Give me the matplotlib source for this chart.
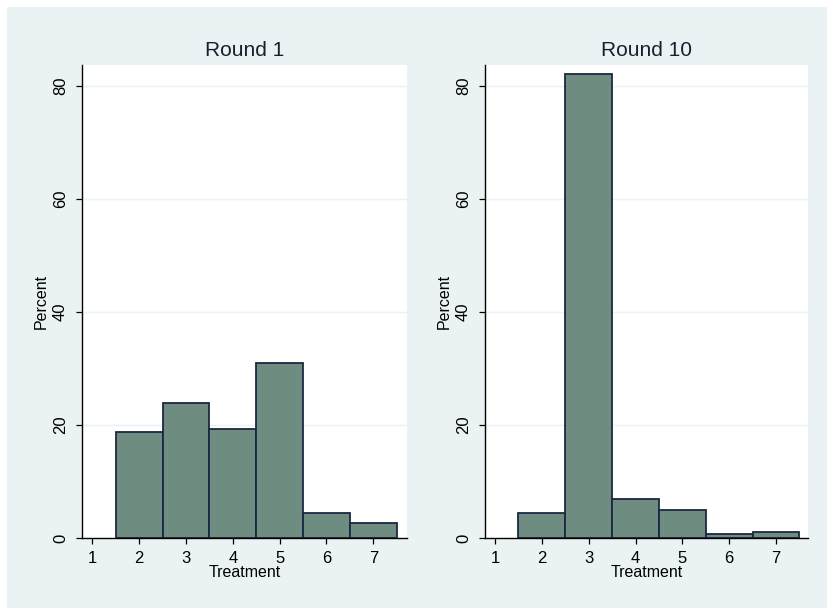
import numpy as np
import matplotlib.pyplot as plt
from matplotlib.patches import Rectangle

plt.rcParams['font.family'] = ['Liberation Sans', 'DejaVu Sans']

# Histogram data: share of subjects (percent) choosing each treatment
treatments = [1, 2, 3, 4, 5, 6, 7]
round1_pct = [0.0, 18.8, 23.9, 19.3, 30.9, 4.4, 2.7]
round10_pct = [0.0, 4.4, 82.1, 6.9, 5.0, 0.7, 1.1]
panel_titles = ["Round 1", "Round 10"]
y_ticks = [0, 20, 40, 60, 80]

bg = "#eaf2f3"
bar_fill = "#6e8c7f"
bar_edge = "#1c2742"

W, H = 828, 608
fig = plt.figure(figsize=(W / 100, H / 100), dpi=100)
fig.patch.set_facecolor("white")
# graph region background (thin white margin on top/left)
fig.patches.append(Rectangle((7 / W, 0), 1 - 7 / W, 1 - 7 / H,
                             transform=fig.transFigure, facecolor=bg,
                             edgecolor="none", zorder=-10))

# axes boxes in pixels: left, right, top, bottom, xlim
boxes = [(82, 407, 64.5, 538, (0.78, 7.72)),
         (485, 808, 64.5, 538, (0.786, 7.683))]

for (x0, x1, y0, y1, xl), title, vals in zip(boxes, panel_titles,
                                             [round1_pct, round10_pct]):
    ax = fig.add_axes([x0 / W, 1 - y1 / H, (x1 - x0) / W, (y1 - y0) / H])
    ax.set_facecolor("white")
    x = np.array(treatments)
    v = np.array(vals)
    keep = v > 0  # empty bins get no outline
    ax.bar(x[keep], v[keep], width=1.0, color=bar_fill, edgecolor=bar_edge,
           linewidth=1.3, zorder=3)
    ax.set_xlim(*xl)
    ax.set_ylim(0, 83.8)
    ax.set_xticks(treatments)
    ax.set_yticks(y_ticks)
    ax.set_yticklabels([str(t) for t in y_ticks], rotation=90, va="center")
    for t in y_ticks[1:]:
        ax.axhline(t, color=bg, lw=1.0, zorder=1)
    for s in ["top", "right"]:
        ax.spines[s].set_visible(False)
    for s in ["left", "bottom"]:
        ax.spines[s].set_linewidth(1.0)
        ax.spines[s].set_color("black")
        ax.spines[s].set_zorder(4)
    ax.tick_params(axis="both", direction="out", length=4.5, width=0.9,
                   labelsize=12, colors="black")
    ax.tick_params(axis="y", pad=5.5)
    ax.tick_params(axis="x", pad=5)
    ax.set_xlabel("Treatment", fontsize=11.5, labelpad=-1)
    ax.set_ylabel("Percent", fontsize=11.5, labelpad=3)
    ax.set_title(title, fontsize=15, color="#1a1f2e", pad=6)

fig.savefig("out.png", dpi=100, facecolor=fig.get_facecolor())
